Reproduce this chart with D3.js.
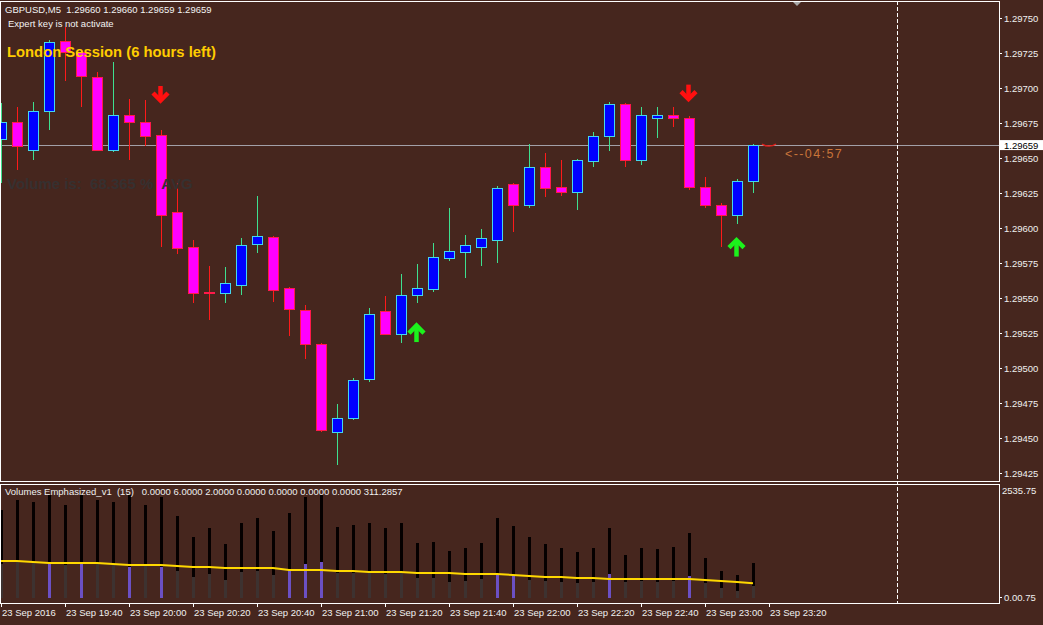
<!DOCTYPE html>
<html><head><meta charset="utf-8">
<script src="https://cdn.jsdelivr.net/npm/d3@7"></script>
<style>
html,body{margin:0;padding:0;background:#46261e;}
svg{display:block;}
text{font-family:"Liberation Sans",Arial,sans-serif;}
</style>
</head><body>
<svg id="chart" width="1043" height="625"></svg>
<script>
// ---------------- DATA ----------------
const symbolTitle = "GBPUSD,M5  1.29660 1.29660 1.29659 1.29659";
const expertNote = "Expert key is not activate";
const sessionNote = "London Session (6 hours left)";
const volumeNote = "Volume is:  68.365 %  AVG";
const indicatorTitle = "Volumes Emphasized_v1  (15)   0.0000 6.0000 2.0000 0.0000 0.0000 0.0000 0.0000 311.2857";
const timerNote = "<--04:57";

// bar times (M5), 19:20 .. 23:15
const barTimes = ["19:20","19:25","19:30","19:35","19:40","19:45","19:50","19:55",
  "20:00","20:05","20:10","20:15","20:20","20:25","20:30","20:35",
  "20:40","20:45","20:50","20:55","21:00","21:05","21:10","21:15",
  "21:20","21:25","21:30","21:35","21:40","21:45","21:50","21:55",
  "22:00","22:05","22:10","22:15","22:20","22:25","22:30","22:35",
  "22:40","22:45","22:50","22:55","23:00","23:05","23:10","23:15"];

const opens  = [1.29663,1.29675,1.29655,1.29683,1.29733,1.29725,1.29707,1.29655,1.29680,1.29675,
                1.29666,1.29611,1.29586,1.29554,1.29553,1.29559,1.29588,1.29593,1.29557,1.29541,
                1.29517,1.29454,1.29464,1.29492,1.29540,1.29524,1.29552,1.29556,1.29578,1.29582,
                1.29586,1.29591,1.29631,1.29616,1.29643,1.29629,1.29625,1.29647,1.29665,1.29688,
                1.29648,1.29678,1.29680,1.29678,1.29629,1.29616,1.29609,1.29633];
const highs  = [1.29689,1.29686,1.29690,1.29734,1.29743,1.29727,1.29711,1.29718,1.29692,1.29691,
                1.29670,1.29632,1.29591,1.29573,1.29572,1.29593,1.29623,1.29594,1.29558,1.29545,
                1.29518,1.29474,1.29493,1.29543,1.29551,1.29567,1.29574,1.29589,1.29614,1.29595,
                1.29599,1.29630,1.29632,1.29660,1.29653,1.29648,1.29649,1.29668,1.29690,1.29689,
                1.29686,1.29686,1.29686,1.29680,1.29636,1.29618,1.29635,1.29660];
const lows   = [1.29632,1.29641,1.29648,1.29670,1.29705,1.29686,1.29655,1.29654,1.29648,1.29658,
                1.29586,1.29581,1.29546,1.29534,1.29546,1.29552,1.29582,1.29547,1.29523,1.29506,
                1.29454,1.29431,1.29463,1.29490,1.29524,1.29518,1.29546,1.29554,1.29576,1.29564,
                1.29573,1.29575,1.29597,1.29614,1.29622,1.29623,1.29613,1.29643,1.29655,1.29643,
                1.29645,1.29664,1.29672,1.29627,1.29614,1.29586,1.29603,1.29625];
const closes = [1.29675,1.29658,1.29683,1.29732,1.29725,1.29708,1.29655,1.29680,1.29675,1.29665,
                1.29609,1.29585,1.29553,1.29553,1.29560,1.29587,1.29594,1.29555,1.29542,1.29517,
                1.29455,1.29464,1.29491,1.29538,1.29524,1.29552,1.29557,1.29579,1.29583,1.29587,
                1.29592,1.29628,1.29616,1.29643,1.29628,1.29625,1.29648,1.29665,1.29688,1.29648,
                1.29680,1.29680,1.29678,1.29629,1.29616,1.29609,1.29633,1.29659];

const bidPrice = 1.29659;
const bidLabel = "1.29659";

const sellSignalBars   = [10, 43];
const sellSignalPrices = [1.29689, 1.29690];
const buySignalBars    = [26, 46];
const buySignalPrices  = [1.29532, 1.29593];

const volumes   = [1952,2177,2132,2289,2064,2289,2177,2132,2289,2064,2244,1818,1346,1548,1189,1661,
                   1773,1481,1885,2244,2289,1571,1616,1661,1548,1661,1212,1234,1032,1100,1212,1773,
                   1593,1346,1189,1100,1010,1100,1548,942,1100,1077,1122,1436,875,583,494,763];
const volumeLow = [740,785,763,763,718,741,741,718,673,718,673,583,449,516,381,561,
                   583,494,606,741,785,539,539,561,516,561,426,426,337,359,404,516,
                   494,381,359,337,314,337,516,337,359,337,359,471,314,202,135,247];
const emphasizedBars = [3,5,8,10,18,19,20,31,32,38,43];
const volumeMA  = [808,808,785,763,763,763,763,741,718,718,718,696,673,673,651,651,
                   651,651,606,606,606,583,583,561,561,561,539,539,539,516,516,516,
                   494,471,449,449,426,426,404,404,404,404,404,404,381,359,337,311];

const priceTicks = [1.29750,1.29725,1.29700,1.29675,1.29650,1.29625,1.29600,1.29575,
                    1.29550,1.29525,1.29500,1.29475,1.29450,1.29425];
const volumeTopLabel = "2535.75";
const volumeBottomLabel = ["0.00", ".75"];
const volumeMax = 2535.75;
const timeTickBars   = [0,4,8,12,16,20,24,28,32,36,40,44,48];
const timeTickLabels = ["23 Sep 2016","23 Sep 19:40","23 Sep 20:00","23 Sep 20:20","23 Sep 20:40",
                        "23 Sep 21:00","23 Sep 21:20","23 Sep 21:40","23 Sep 22:00","23 Sep 22:20",
                        "23 Sep 22:40","23 Sep 23:00","23 Sep 23:20"];
const shiftBar = 56; // chart-shift separator position in bars

// ---------------- DRAW ----------------
const svg = d3.select("#chart");
const W = 1043, H = 625;
const BG = "#46261e";
const mainTop = 1, mainBot = 481, volTop = 484, volBot = 603, plotRight = 999;

svg.append("rect").attr("width", W).attr("height", H).attr("fill", BG);

const x = d3.scaleLinear().domain([0, 47]).range([1, 753]);
const y = d3.scaleLinear().domain([1.294193, 1.297618]).range([mainBot, mainTop]);
const yv = d3.scaleLinear().domain([0, volumeMax]).range([597, 484]);

const defs = svg.append("defs");
defs.append("clipPath").attr("id", "clipMain").append("rect")
  .attr("x", 0).attr("y", mainTop).attr("width", plotRight).attr("height", mainBot - mainTop);
defs.append("clipPath").attr("id", "clipVol").append("rect")
  .attr("x", 0).attr("y", volTop).attr("width", plotRight).attr("height", volBot - volTop);

const main = svg.append("g").attr("clip-path", "url(#clipMain)");

// bid line
main.append("line")
  .attr("x1", 0).attr("x2", plotRight)
  .attr("y1", Math.round(y(bidPrice)) + 0.5).attr("y2", Math.round(y(bidPrice)) + 0.5)
  .attr("stroke", "#a3a0a8").attr("stroke-width", 1);

// candles
const bars = d3.range(opens.length).map(i => ({
  i, o: opens[i], h: highs[i], l: lows[i], c: closes[i], up: closes[i] >= opens[i]
}));
const cg = main.append("g").attr("shape-rendering", "crispEdges");
cg.selectAll("line.wick").data(bars).join("line")
  .attr("class", "wick")
  .attr("x1", d => x(d.i) + 0.5).attr("x2", d => x(d.i) + 0.5)
  .attr("y1", d => y(d.h)).attr("y2", d => y(d.l))
  .attr("stroke", d => d.up ? "#3ee08f" : "#ff1a1a").attr("stroke-width", 1);
cg.selectAll("rect.body").data(bars).join("rect")
  .attr("class", "body")
  .attr("x", d => x(d.i) - 4.5)
  .attr("y", d => y(Math.max(d.o, d.c)))
  .attr("width", 10)
  .attr("height", d => Math.max(1.5, Math.abs(y(d.o) - y(d.c))))
  .attr("fill", d => d.up ? "#0000ff" : "#ff00ff")
  .attr("stroke", d => d.up ? "#45d6ee" : "#ff1a4a").attr("stroke-width", 1);

// signal arrows (thick wingdings-like)
function downArrow(g, cx, tipY, color) {
  const a = g.append("g").attr("transform", `translate(${cx},${tipY})`);
  a.append("line").attr("x1", 0).attr("x2", 0).attr("y1", -17).attr("y2", -3)
    .attr("stroke", color).attr("stroke-width", 4.5);
  a.append("path").attr("d", "M-7.5,-10 L0,-2.5 L7.5,-10")
    .attr("fill", "none").attr("stroke", color).attr("stroke-width", 4.5)
    .attr("stroke-linejoin", "miter").attr("stroke-linecap", "butt");
}
function upArrow(g, cx, tipY, color) {
  const a = g.append("g").attr("transform", `translate(${cx},${tipY})`);
  a.append("line").attr("x1", 0).attr("x2", 0).attr("y1", 3).attr("y2", 19)
    .attr("stroke", color).attr("stroke-width", 4.5);
  a.append("path").attr("d", "M-7.5,10 L0,2.5 L7.5,10")
    .attr("fill", "none").attr("stroke", color).attr("stroke-width", 4.5)
    .attr("stroke-linejoin", "miter").attr("stroke-linecap", "butt");
}
sellSignalBars.forEach((b, k) => downArrow(main, x(b) - 0.5, y(sellSignalPrices[k]), "#ff1010"));
buySignalBars.forEach((b, k) => upArrow(main, x(b) - 0.5, y(buySignalPrices[k]), "#1cf21c"));

// small bid marker near the last bar
const lastX = x(opens.length - 1);
main.append("path")
  .attr("d", `M${lastX + 9},${y(bidPrice) - 1} Q${lastX + 16},${y(bidPrice) + 3} ${lastX + 23},${y(bidPrice) - 1}`)
  .attr("fill", "none").attr("stroke", "#e0201c").attr("stroke-width", 1.5);

// timer text
main.append("text").attr("x", 785).attr("y", y(bidPrice) + 13)
  .attr("fill", "#c8743a").attr("font-size", 12.5).attr("letter-spacing", 1.4).text(timerNote);

// overlay texts
svg.append("text").attr("x", 5).attr("y", 13).attr("fill", "#f2f2f2")
  .attr("font-size", 9.5).style("white-space", "pre").text(symbolTitle);
svg.append("text").attr("x", 8).attr("y", 27).attr("fill", "#f2f2f2")
  .attr("font-size", 9.5).text(expertNote);
svg.append("text").attr("x", 7).attr("y", 57).attr("fill", "#ffcc00")
  .attr("font-size", 14.8).attr("font-weight", "bold").text(sessionNote);
svg.append("text").attr("x", 7).attr("y", 189).attr("fill", "#363030")
  .attr("font-size", 15).attr("font-weight", "bold").style("white-space", "pre").text(volumeNote);

// top shift marker
svg.append("path").attr("d", "M792,1 L802,1 L797,6 Z").attr("fill", "#a8a8a8");

// ---------------- VOLUME PANEL ----------------
const vg = svg.append("g").attr("clip-path", "url(#clipVol)").attr("shape-rendering", "crispEdges");
const vbars = d3.range(volumes.length).map(i => ({
  i, v: volumes[i], lo: volumeLow[i], emph: emphasizedBars.includes(i)
}));
vg.selectAll("rect.vlow").data(vbars).join("rect")
  .attr("class", "vlow")
  .attr("x", d => x(d.i) - 1).attr("width", 3)
  .attr("y", d => yv(d.lo)).attr("height", d => yv(0) + 1 - yv(d.lo))
  .attr("fill", d => d.emph ? "#6b50c4" : "#3d3230");
vg.selectAll("rect.vhi").data(vbars).join("rect")
  .attr("class", "vhi")
  .attr("x", d => x(d.i) - 1).attr("width", 3)
  .attr("y", d => yv(d.v)).attr("height", d => yv(d.lo) - yv(d.v))
  .attr("fill", "#050000");
svg.append("g").attr("clip-path", "url(#clipVol)").append("path")
  .datum(volumeMA)
  .attr("d", d3.line().x((d, i) => x(i)).y(d => yv(d)))
  .attr("fill", "none").attr("stroke", "#ffd800").attr("stroke-width", 2);

svg.append("text").attr("x", 5).attr("y", 495).attr("fill", "#f0f0f0")
  .attr("font-size", 9.5).style("white-space", "pre").text(indicatorTitle);

// ---------------- FRAMES & AXES ----------------
const fr = svg.append("g").attr("fill", "none").attr("stroke", "#ffffff").attr("stroke-width", 1)
  .attr("shape-rendering", "crispEdges");
fr.append("rect").attr("x", 0.5).attr("y", mainTop + 0.5).attr("width", plotRight - 0.5).attr("height", mainBot - mainTop);
fr.append("rect").attr("x", 0.5).attr("y", volTop + 0.5).attr("width", plotRight - 0.5).attr("height", volBot - volTop);

// chart shift separator (dashed)
const sepX = Math.round(x(shiftBar)) + 0.5;
svg.append("line").attr("x1", sepX).attr("x2", sepX).attr("y1", mainTop).attr("y2", volBot)
  .attr("stroke", "#ffffff").attr("stroke-width", 1).attr("stroke-dasharray", "4,2")
  .attr("shape-rendering", "crispEdges");

// price axis (right)
const pa = svg.append("g");
priceTicks.forEach(p => {
  const yy = Math.round(y(p)) + 0.5;
  pa.append("line").attr("x1", plotRight).attr("x2", plotRight + 3).attr("y1", yy).attr("y2", yy)
    .attr("stroke", "#ffffff").attr("shape-rendering", "crispEdges");
  pa.append("text").attr("x", 1004).attr("y", yy + 3.5).attr("fill", "#f0f0f0")
    .attr("font-size", 9.5).text(d3.format(".5f")(p));
});
// bid label box
const by = y(bidPrice);
pa.append("rect").attr("x", 1000).attr("y", by - 5).attr("width", 43).attr("height", 10).attr("fill", "#ffffff");
pa.append("text").attr("x", 1004).attr("y", by + 3.5).attr("fill", "#000000")
  .attr("font-size", 9.5).text(bidLabel);

// volume axis labels
pa.append("text").attr("x", 1002).attr("y", 494).attr("fill", "#f0f0f0").attr("font-size", 9.5).text(volumeTopLabel);
pa.append("line").attr("x1", plotRight).attr("x2", plotRight + 3).attr("y1", 597.5).attr("y2", 597.5)
  .attr("stroke", "#ffffff").attr("shape-rendering", "crispEdges");
const bl = pa.append("text").attr("x", 1004).attr("y", 601).attr("fill", "#f0f0f0").attr("font-size", 9.5);
bl.append("tspan").text(volumeBottomLabel[0]);
bl.append("tspan").text(volumeBottomLabel[1]);

// time axis
const ta = svg.append("g");
timeTickBars.forEach((b, k) => {
  const xx = Math.round(x(b)) + 0.5;
  ta.append("line").attr("x1", xx).attr("x2", xx).attr("y1", volBot).attr("y2", volBot + 4)
    .attr("stroke", "#ffffff").attr("shape-rendering", "crispEdges");
  ta.append("text").attr("x", xx + 0.5).attr("y", 616).attr("fill", "#f0f0f0")
    .attr("font-size", 9.5).text(timeTickLabels[k]);
});
</script>
</body></html>
